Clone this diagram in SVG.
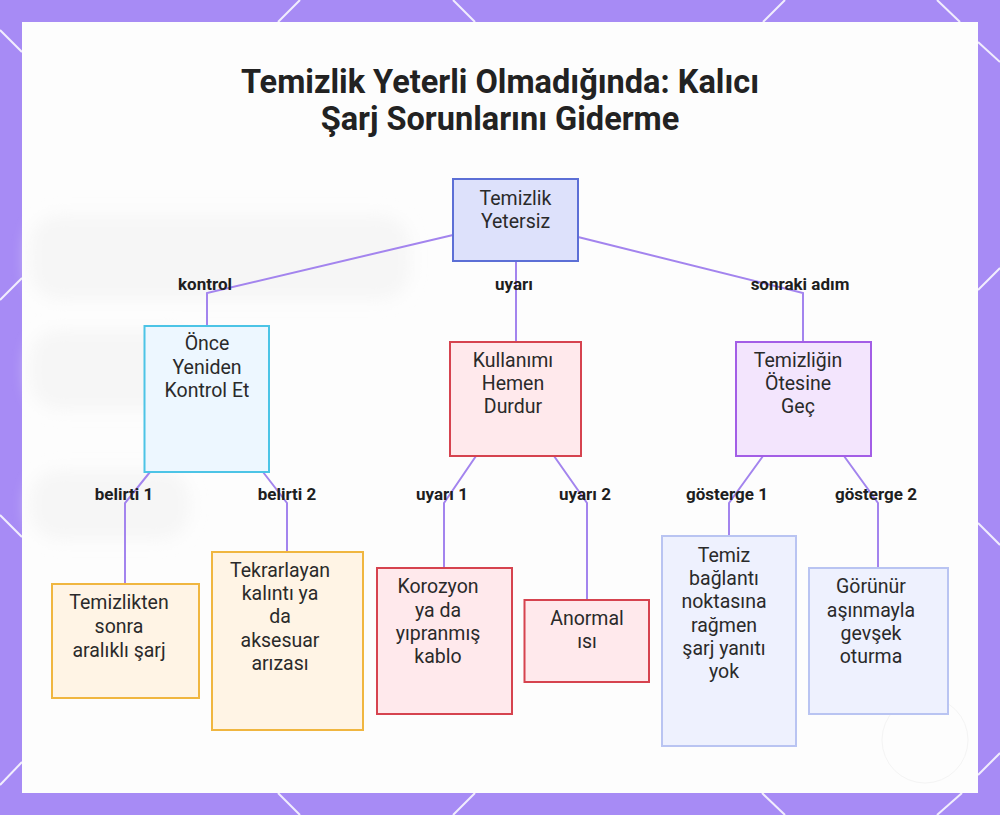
<svg xmlns="http://www.w3.org/2000/svg" width="1000" height="815" viewBox="0 0 1000 815">
<defs>
<style>
.title{font-family:Roboto,"Liberation Sans",sans-serif;font-weight:700;font-size:32.5px;fill:#222;text-anchor:middle}
.nt{font-family:Roboto,"Liberation Sans",sans-serif;font-size:19.5px;fill:#2a2a2a;text-anchor:middle}
.lbl{font-family:Roboto,"Liberation Sans",sans-serif;font-weight:700;font-size:17px;fill:#1e1e1e;text-anchor:middle}
.edge{fill:none;stroke:#a384ee;stroke-width:2}
.hex{stroke:#ffffff;stroke-width:2;fill:none;opacity:0.85}
.blue{fill:#dde1fb;stroke:#5c6fd6;stroke-width:2}
.cyan{fill:#edf7ff;stroke:#4cc4e6;stroke-width:2}
.red{fill:#ffe9ec;stroke:#d6434f;stroke-width:2}
.purple{fill:#f3e5fd;stroke:#a35ee6;stroke-width:2}
.orange{fill:#fff4e5;stroke:#f0b640;stroke-width:2}
.peri{fill:#eef1fe;stroke:#b9c4f2;stroke-width:2}
</style>
<filter id="blur" x="-20%" y="-50%" width="140%" height="200%"><feGaussianBlur stdDeviation="8"/></filter>
</defs>
<rect x="0" y="0" width="1000" height="815" fill="#a78bf5"/>
<g class="hex">
<line x1="0" y1="30" x2="22" y2="52"/>
<line x1="278" y1="22" x2="300" y2="0"/>
<line x1="453" y1="0" x2="475" y2="22"/>
<line x1="763" y1="22" x2="785" y2="0"/>
<line x1="937" y1="0" x2="960" y2="22"/>
<line x1="978" y1="42" x2="1000" y2="62"/>
<line x1="0" y1="300" x2="22" y2="278"/>
<line x1="0" y1="515" x2="22" y2="537"/>
<line x1="0" y1="785" x2="22" y2="762"/>
<line x1="278" y1="793" x2="300" y2="815"/>
<line x1="453" y1="815" x2="475" y2="793"/>
<line x1="762" y1="793" x2="785" y2="815"/>
<line x1="937" y1="815" x2="962" y2="793"/>
<line x1="978" y1="290" x2="1000" y2="268"/>
<line x1="978" y1="523" x2="1000" y2="545"/>
<line x1="978" y1="775" x2="1000" y2="753"/>
</g>
<rect x="22" y="22" width="956" height="771" fill="#fdfdfd"/>
<g filter="url(#blur)" fill="#f6f6f6">
<rect x="30" y="215" width="380" height="85" rx="30"/>
<rect x="30" y="330" width="170" height="80" rx="30"/>
<rect x="30" y="470" width="160" height="70" rx="30"/>
</g>
<circle cx="925" cy="740" r="43" fill="none" stroke="#f4f4f4" stroke-width="1"/>
<text class="title" x="500" y="93">Temizlik Yeterli Olmadığında: Kalıcı</text>
<text class="title" x="500" y="130">Şarj Sorunlarını Giderme</text>
<g id="connectors">
<polyline class="edge" points="453,235 207,293 207,326"/>
<polyline class="edge" points="516,261 516,342"/>
<polyline class="edge" points="578,237 803,293 803,342"/>
<polyline class="edge" points="150,472 125,503 125,584"/>
<polyline class="edge" points="263,472 287,503 287,552"/>
<polyline class="edge" points="476,456 444,503 444,568"/>
<polyline class="edge" points="554,456 587,503 587,600"/>
<polyline class="edge" points="763,456 729,503 729,536"/>
<polyline class="edge" points="844,456 878,503 878,568"/>
<text class="lbl" x="205" y="290">kontrol</text>
<text class="lbl" x="514" y="290">uyarı</text>
<text class="lbl" x="800" y="290">sonraki adım</text>
<text class="lbl" x="124" y="500">belirti 1</text>
<text class="lbl" x="287" y="500">belirti 2</text>
<text class="lbl" x="442" y="500">uyarı 1</text>
<text class="lbl" x="585" y="500">uyarı 2</text>
<text class="lbl" x="727" y="500">gösterge 1</text>
<text class="lbl" x="876" y="500">gösterge 2</text>
</g>
<g id="n-root"><rect class="blue" x="453" y="179" width="125" height="82"/>
<text class="nt" x="515.5" y="205">Temizlik</text><text class="nt" x="515.5" y="228">Yetersiz</text></g>
<g id="n-check"><rect class="cyan" x="144.5" y="326" width="124.5" height="146"/>
<text class="nt" x="207" y="350">Önce</text><text class="nt" x="207" y="374">Yeniden</text><text class="nt" x="207" y="397">Kontrol Et</text></g>
<g id="n-stop"><rect class="red" x="450" y="342" width="131" height="114"/>
<text class="nt" x="513" y="367">Kullanımı</text><text class="nt" x="513" y="390">Hemen</text><text class="nt" x="513" y="413">Durdur</text></g>
<g id="n-beyond"><rect class="purple" x="736" y="342" width="135" height="114"/>
<text class="nt" x="798" y="367">Temizliğin</text><text class="nt" x="798" y="390">Ötesine</text><text class="nt" x="798" y="413">Geç</text></g>
<g id="n-intermittent"><rect class="orange" x="52" y="584" width="147" height="114"/>
<text class="nt" x="119" y="609">Temizlikten</text><text class="nt" x="119" y="633">sonra</text><text class="nt" x="119" y="657">aralıklı şarj</text></g>
<g id="n-residue"><rect class="orange" x="212" y="552" width="151" height="178"/>
<text class="nt" x="280" y="577">Tekrarlayan</text><text class="nt" x="280" y="600">kalıntı ya</text><text class="nt" x="280" y="623">da</text><text class="nt" x="280" y="647">aksesuar</text><text class="nt" x="280" y="670">arızası</text></g>
<g id="n-corrosion"><rect class="red" x="377" y="568" width="135" height="146"/>
<text class="nt" x="438" y="593">Korozyon</text><text class="nt" x="438" y="617">ya da</text><text class="nt" x="438" y="640">yıpranmış</text><text class="nt" x="438" y="663">kablo</text></g>
<g id="n-heat"><rect class="red" x="524.5" y="600" width="124.5" height="82"/>
<text class="nt" x="587" y="625">Anormal</text><text class="nt" x="587" y="648">ısı</text></g>
<g id="n-noresponse"><rect class="peri" x="662" y="536" width="134" height="210"/>
<text class="nt" x="724" y="562">Temiz</text><text class="nt" x="724" y="585">bağlantı</text><text class="nt" x="724" y="608">noktasına</text><text class="nt" x="724" y="632">rağmen</text><text class="nt" x="724" y="655">şarj yanıtı</text><text class="nt" x="724" y="678">yok</text></g>
<g id="n-loose"><rect class="peri" x="809" y="568" width="139" height="146"/>
<text class="nt" x="871" y="593">Görünür</text><text class="nt" x="871" y="617">aşınmayla</text><text class="nt" x="871" y="640">gevşek</text><text class="nt" x="871" y="663">oturma</text></g>
</svg>
